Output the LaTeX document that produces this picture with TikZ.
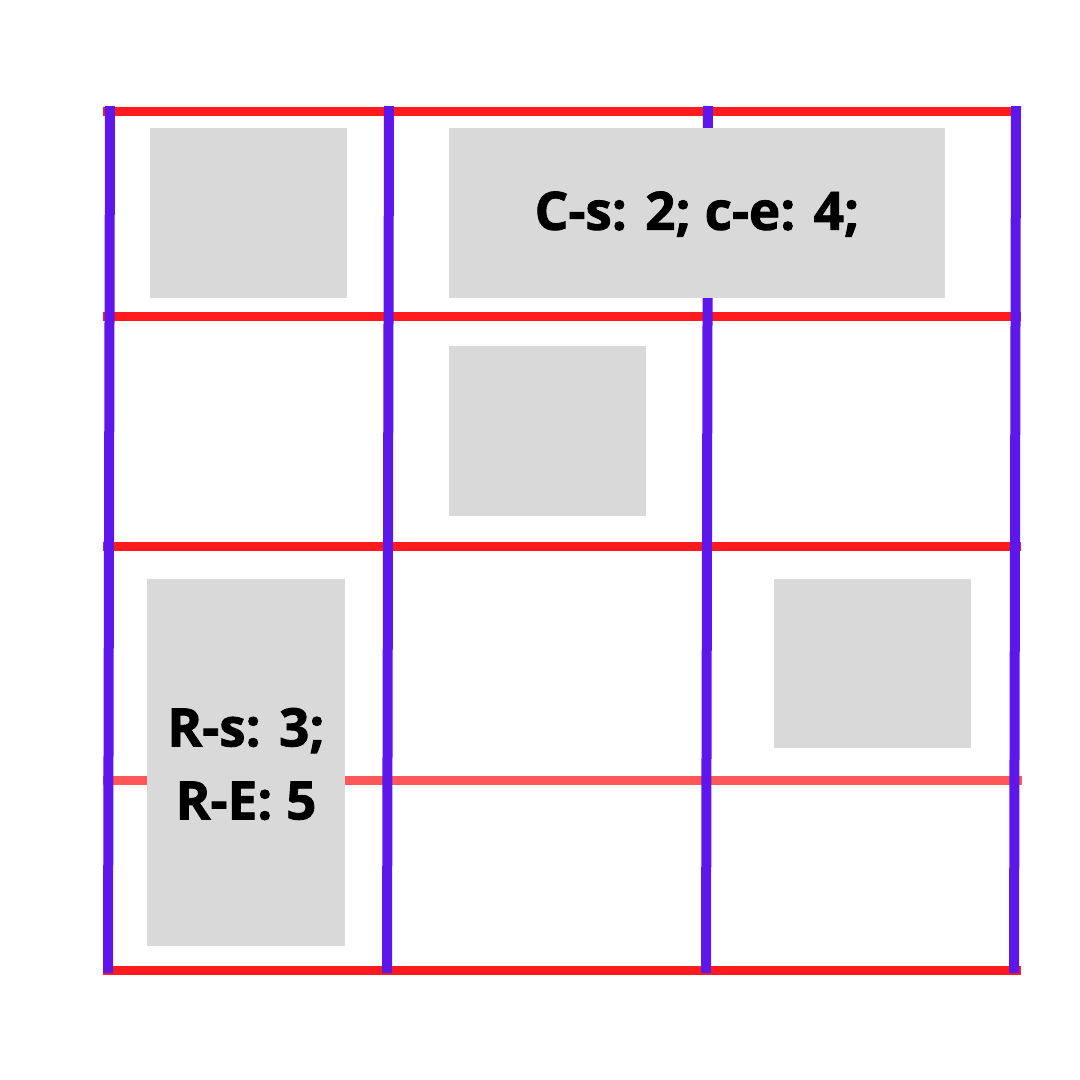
\documentclass[tikz,border=0pt]{standalone}
\usepackage{fontspec}
\setmainfont{Open Sans}[BoldFeatures={FakeBold=1.6}]
\usepackage{tikz}
\usetikzlibrary{positioning}
\definecolor{gridred}{RGB}{255,26,30}
\definecolor{gridpink}{RGB}{255,87,87}
\definecolor{gridpurple}{RGB}{94,23,235}
\definecolor{cellgray}{RGB}{217,217,217}

\begin{document}
\begin{tikzpicture}[
  x=1pt, y=-1pt,
  rowline/.style  = {line width=9pt, color=gridred},
  softline/.style = {line width=9pt, color=gridpink},
  colline/.style  = {line width=10pt, color=gridpurple},
  cell/.style     = {fill=cellgray, draw=none},
  celltext/.style = {font=\fontsize{53}{73}\selectfont\bfseries, align=center, text=black},
]
\useasboundingbox (0,0) rectangle (1080,1080);

%% --- Row lines ---
\draw[rowline]  (103,111) -- (1021,111);
\draw[rowline]  (103,316) -- (1021,316);
\draw[rowline]  (103,546) -- (1021,546);
\draw[softline] (103,780) -- (1022,780);
\draw[rowline]  (103,970) -- (1021,970);

%% --- Column lines ---
\draw[colline] (110,106) -- (108,973);
\draw[colline] (389,106) -- (387,973);
\draw[colline] (708,106) -- (706,973);
\draw[colline] (1016,106) -- (1014,973);

%% --- Grid items ---
\fill[cell] (150,128) rectangle (347,298);
\fill[cell] (449,128) rectangle (945,298);
\fill[cell] (449,346) rectangle (646,516);
\fill[cell] (147,579) rectangle (345,946);
\fill[cell] (774,579) rectangle (971,748);

%% --- Labels ---
\node[celltext] (colspan) at (697,214) {C-s: 2; c-e: 4;};
\node[celltext] (rowspan) at (246,764) {R-s: 3;\\R-E: 5};

\end{tikzpicture}
\end{document}
